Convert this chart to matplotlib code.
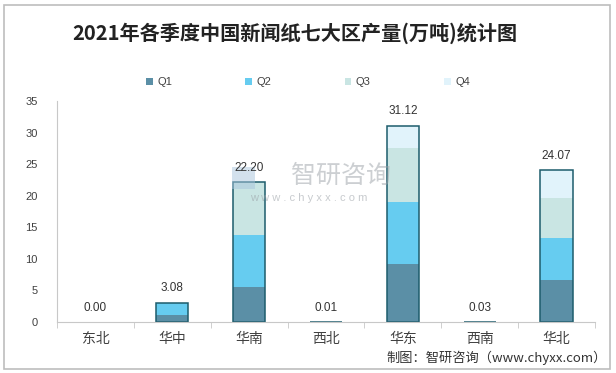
import matplotlib.pyplot as plt
import numpy as np
from matplotlib.patches import Rectangle

plt.rcParams['font.family'] = ['Liberation Sans', 'Noto Sans CJK SC', 'DejaVu Sans']

regions = ['东北', '华中', '华南', '西北', '华东', '西南', '华北']
q1 = [0.00, 1.16, 5.60, 0.01, 9.14, 0.03, 6.71]
q2 = [0.00, 1.92, 8.26, 0.00, 9.84, 0.00, 6.56]
q3 = [0.00, 0.00, 8.34, 0.00, 8.58, 0.00, 6.35]
q4 = [0.00, 0.00, 0.00, 0.00, 3.56, 0.00, 4.45]
totals = [0.00, 3.08, 22.20, 0.01, 31.12, 0.03, 24.07]
quarters = ['Q1', 'Q2', 'Q3', 'Q4']
colors = ['#5b8fa6', '#66ccf0', '#c9e5e3', '#e1f3fb']
edge = '#1d5c6c'

fig = plt.figure(figsize=(6.16, 3.73), dpi=100)
fig.patches.append(Rectangle((0.006, 0.012), 0.985, 0.975, transform=fig.transFigure,
                             fill=False, edgecolor='#bdbdbd', linewidth=1.2))
ax = fig.add_axes([0.0925, 0.1367, 0.8735, 0.5923])

x = np.arange(len(regions))
w = 0.42
bottom = np.zeros(len(regions))
for name, vals, c in zip(quarters, [q1, q2, q3, q4], colors):
    ax.bar(x, vals, w, bottom=bottom, color=c, label=name, linewidth=0)
    bottom += np.array(vals)
# outline around each stack (none for an empty stack)
for xi, t in zip(x, totals):
    if t > 0:
        ax.bar(xi, t, w, fill=False, edgecolor=edge, linewidth=1.1)

for xi, t in zip(x, totals):
    ax.text(xi, t + 1.3, f'{t:.2f}', ha='center', va='bottom', fontsize=8.5, color='#333333')

ax.set_xlim(-0.5, len(regions) - 0.5)
ax.set_ylim(0, 35)
ax.set_yticks(range(0, 36, 5))
ax.tick_params(axis='y', length=0, labelsize=8, colors='#404040', pad=14)
ax.set_xticks(x)
ax.set_xticklabels(regions, fontsize=10, color='#404040')
ax.tick_params(axis='x', length=0, pad=7)
ax.set_xticks(np.arange(-0.5, len(regions) + 0.5), minor=True)
ax.tick_params(axis='x', which='minor', length=4, color='#c8c8c8', direction='out')
for s in ['top', 'right']:
    ax.spines[s].set_visible(False)
ax.spines['left'].set_color('#c8c8c8')
ax.spines['bottom'].set_color('#c8c8c8')

fig.text(0.478, 0.912, '2021年各季度中国新闻纸七大区产量(万吨)统计图', ha='center', va='center',
         fontsize=14.5, fontweight='bold', color='#222222', family=['Noto Sans CJK SC'])

fig.legend(loc='center', bbox_to_anchor=(0.50, 0.78), ncol=4, frameon=False, fontsize=8,
           handlelength=0.6, handleheight=0.6, columnspacing=6.6, handletextpad=0.4,
           labelcolor='#404040')

# watermark
ax.text(3.2, 23.2, '智研咨询', ha='center', va='center', fontsize=18, color='#9aa0a6', alpha=0.5,
        family=['Noto Sans CJK SC'])
ax.text(2.78, 19.6, 'w w w . c h y x x . c o m', ha='center', va='center', fontsize=8,
        color='#9aa0a6', alpha=0.55)
ax.add_patch(Rectangle((1.78, 21.0), 0.3, 3.6, color='#a9c4dc', alpha=0.5, linewidth=0))

fig.text(0.985, 0.04, '制图：智研咨询（www.chyxx.com）', ha='right', va='center', fontsize=9.5,
         color='#333333', family=['Noto Sans CJK SC'])

fig.savefig('out.png', dpi=100)
